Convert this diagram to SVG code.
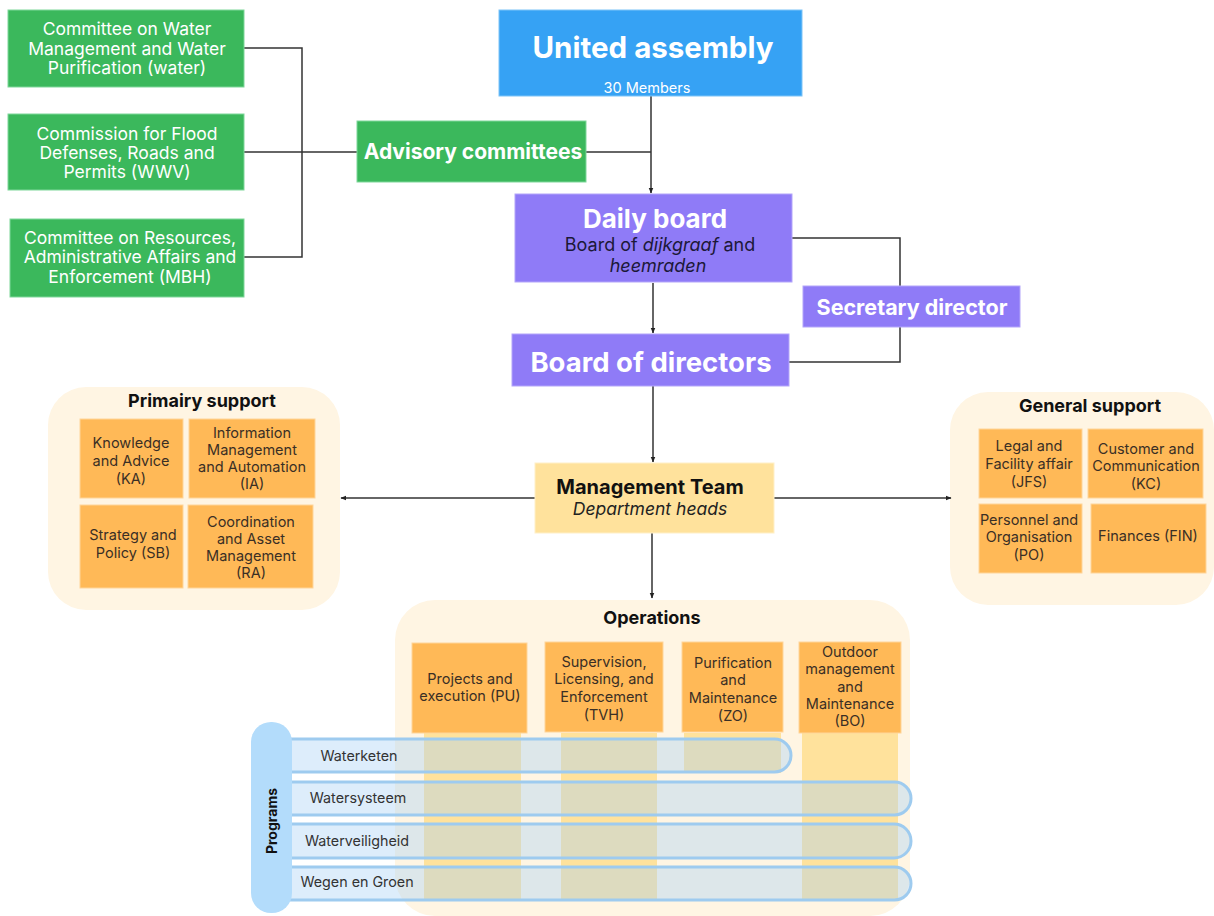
<svg xmlns="http://www.w3.org/2000/svg" width="1214" height="916" viewBox="0 0 1214 916">
  <defs>
    <marker id="arr" viewBox="0 0 10 10" refX="9" refY="5" markerWidth="6" markerHeight="6" orient="auto-start-reverse" markerUnits="userSpaceOnUse">
      <path d="M0,1 L10,5 L0,9 z" fill="#222"/>
    </marker>
    <style>
      text { font-family: Inter, "Liberation Sans", sans-serif; }
      .green { fill: #3bb85c; stroke: #7fd79a; stroke-width: 1; }
      .purple { fill: #8f7bf7; stroke: #b3a6fa; stroke-width: 1; }
      .panel { fill: #fff5e3; }
      .unit { fill: #ffb957; stroke: #ffd59a; stroke-width: 1; }
      .col { fill: #ffe29c; }
      .bar { fill: #a9d2f5; fill-opacity: 0.4; stroke: #9ecbef; stroke-width: 3; }
      .wt { fill: #ffffff; font-size: 17.5px; text-anchor: middle; }
      .wb { fill: #ffffff; font-weight: 700; text-anchor: middle; }
      .ut { fill: #3a2f25; font-size: 14.5px; text-anchor: middle; }
      .ht { fill: #111; font-size: 18px; font-weight: 700; text-anchor: middle; }
      .pt { fill: #333; font-size: 14.3px; text-anchor: middle; }
      .ln { fill: none; stroke: #333; stroke-width: 1.5; }
    </style>
  </defs>

  <!-- background panels -->
  <rect class="panel" x="48" y="387" width="292" height="223" rx="38"/>
  <rect class="panel" x="950" y="392" width="264" height="213" rx="38"/>
  <rect class="panel" x="395" y="600" width="515" height="316" rx="40"/>

  <!-- connectors -->
  <g id="connectors">
    <polyline class="ln" points="244,48 302,48 302,257 244,257"/>
    <line class="ln" x1="244" y1="152" x2="357" y2="152"/>
    <line class="ln" x1="586" y1="152" x2="651" y2="152"/>
    <line class="ln" x1="651" y1="96" x2="651" y2="193" marker-end="url(#arr)"/>
    <polyline class="ln" points="792,238 900,238 900,286"/>
    <polyline class="ln" points="900,327 900,362 789,362"/>
    <line class="ln" x1="653" y1="283" x2="653" y2="333" marker-end="url(#arr)"/>
    <line class="ln" x1="653" y1="386" x2="653" y2="462" marker-end="url(#arr)"/>
    <line class="ln" x1="535" y1="498" x2="341" y2="498" marker-end="url(#arr)"/>
    <line class="ln" x1="774" y1="498" x2="951" y2="498" marker-end="url(#arr)"/>
    <line class="ln" x1="652" y1="533" x2="652" y2="598" marker-end="url(#arr)"/>
  </g>

  <!-- advisory side -->
  <g id="committee-water">
    <rect class="green" x="8" y="10" width="236" height="77"/>
    <text class="wt"><tspan x="127" y="35">Committee on Water</tspan><tspan x="127" y="55">Management and Water</tspan><tspan x="127" y="74">Purification (water)</tspan></text>
  </g>
  <g id="commission-wwv">
    <rect class="green" x="8" y="114" width="236" height="76"/>
    <text class="wt"><tspan x="127" y="140">Commission for Flood</tspan><tspan x="127" y="159">Defenses, Roads and</tspan><tspan x="127" y="178">Permits (WWV)</tspan></text>
  </g>
  <g id="committee-mbh">
    <rect class="green" x="10" y="219" width="234" height="78"/>
    <text class="wt"><tspan x="130" y="244">Committee on Resources,</tspan><tspan x="130" y="263">Administrative Affairs and</tspan><tspan x="130" y="283">Enforcement (MBH)</tspan></text>
  </g>
  <g id="advisory">
    <rect class="green" x="357" y="121" width="229" height="61"/>
    <text class="wb" x="473" y="159" font-size="21">Advisory committees</text>
  </g>

  <!-- governance -->
  <g id="united-assembly">
    <rect x="499" y="10" width="303" height="86" fill="#36a2f4" stroke="#7cc4f8"/>
    <text class="wb" x="653" y="58" font-size="29.5">United assembly</text>
    <text x="647" y="93" fill="#ffffff" font-size="14.5" text-anchor="middle">30 Members</text>
  </g>
  <g id="daily-board">
    <rect class="purple" x="515" y="194" width="277" height="88"/>
    <text class="wb" x="655" y="228" font-size="26">Daily board</text>
    <text x="660" y="251" fill="#1c1838" font-size="18" text-anchor="middle">Board of <tspan font-style="italic">dijkgraaf</tspan> and</text>
    <text x="658" y="272" fill="#1c1838" font-size="18" text-anchor="middle" font-style="italic">heemraden</text>
  </g>
  <g id="secretary-director">
    <rect class="purple" x="803" y="286" width="217" height="41"/>
    <text class="wb" x="912" y="315" font-size="21.5">Secretary director</text>
  </g>
  <g id="board-of-directors">
    <rect class="purple" x="512" y="334" width="277" height="52"/>
    <text class="wb" x="651" y="372" font-size="27.5">Board of directors</text>
  </g>
  <g id="management-team">
    <rect x="535" y="463" width="239" height="70" fill="#ffe29c" stroke="#fff0c8"/>
    <text x="650" y="494" fill="#111" font-size="20" font-weight="700" text-anchor="middle">Management Team</text>
    <text x="650" y="515" fill="#222" font-size="17.5" font-style="italic" text-anchor="middle">Department heads</text>
  </g>

  <!-- primary support -->
  <g id="primary-support">
    <text class="ht" x="202" y="407">Primairy support</text>
    <rect class="unit" x="80" y="419" width="103" height="79"/>
    <text class="ut"><tspan x="131" y="448">Knowledge</tspan><tspan x="131" y="466">and Advice</tspan><tspan x="131" y="484">(KA)</tspan></text>
    <rect class="unit" x="189" y="419" width="126" height="79"/>
    <text class="ut"><tspan x="252" y="438">Information</tspan><tspan x="252" y="455">Management</tspan><tspan x="252" y="472">and Automation</tspan><tspan x="252" y="489">(IA)</tspan></text>
    <rect class="unit" x="80" y="505" width="103" height="83"/>
    <text class="ut"><tspan x="133" y="540">Strategy and</tspan><tspan x="133" y="558">Policy (SB)</tspan></text>
    <rect class="unit" x="188" y="505" width="125" height="83"/>
    <text class="ut"><tspan x="251" y="527">Coordination</tspan><tspan x="251" y="544">and Asset</tspan><tspan x="251" y="561">Management</tspan><tspan x="251" y="578">(RA)</tspan></text>
  </g>

  <!-- general support -->
  <g id="general-support">
    <text class="ht" x="1090" y="412">General support</text>
    <rect class="unit" x="979" y="429" width="103" height="69"/>
    <text class="ut"><tspan x="1029" y="451">Legal and</tspan><tspan x="1029" y="469">Facility affair</tspan><tspan x="1029" y="487">(JFS)</tspan></text>
    <rect class="unit" x="1088" y="429" width="115" height="69"/>
    <text class="ut"><tspan x="1146" y="454">Customer and</tspan><tspan x="1146" y="471">Communication</tspan><tspan x="1146" y="489">(KC)</tspan></text>
    <rect class="unit" x="979" y="504" width="103" height="69"/>
    <text class="ut"><tspan x="1029" y="525">Personnel and</tspan><tspan x="1029" y="542">Organisation</tspan><tspan x="1029" y="560">(PO)</tspan></text>
    <rect class="unit" x="1091" y="504" width="115" height="69"/>
    <text class="ut"><tspan x="1148" y="541">Finances (FIN)</tspan></text>
  </g>

  <!-- operations -->
  <g id="operations">
    <text class="ht" x="652" y="624">Operations</text>
    <rect class="col" x="424" y="733" width="97" height="167"/>
    <rect class="col" x="561" y="733" width="96" height="167"/>
    <rect class="col" x="684" y="733" width="97" height="40"/>
    <rect class="col" x="802" y="733" width="96" height="167"/>
    <rect class="unit" x="412" y="643" width="115" height="90"/>
    <text class="ut"><tspan x="470" y="684">Projects and</tspan><tspan x="470" y="701">execution (PU)</tspan></text>
    <rect class="unit" x="545" y="642" width="118" height="90"/>
    <text class="ut"><tspan x="604" y="667">Supervision,</tspan><tspan x="604" y="684">Licensing, and</tspan><tspan x="604" y="702">Enforcement</tspan><tspan x="604" y="720">(TVH)</tspan></text>
    <rect class="unit" x="682" y="642" width="101" height="90"/>
    <text class="ut"><tspan x="733" y="668">Purification</tspan><tspan x="733" y="685">and</tspan><tspan x="733" y="703">Maintenance</tspan><tspan x="733" y="721">(ZO)</tspan></text>
    <rect class="unit" x="799" y="642" width="102" height="91"/>
    <text class="ut"><tspan x="850" y="657">Outdoor</tspan><tspan x="850" y="674">management</tspan><tspan x="850" y="692">and</tspan><tspan x="850" y="709">Maintenance</tspan><tspan x="850" y="726">(BO)</tspan></text>
  </g>

  <!-- programs -->
  <g id="programs">
    <rect class="bar" x="262" y="739" width="529" height="33" rx="16.5"/>
    <rect class="bar" x="262" y="782" width="649" height="33" rx="16.5"/>
    <rect class="bar" x="262" y="824" width="649" height="34" rx="17"/>
    <rect class="bar" x="262" y="867" width="649" height="33" rx="16.5"/>
    <rect x="251" y="722" width="41" height="191" rx="20" fill="#b3dcfb"/>
    <text x="0" y="0" transform="translate(277,821) rotate(-90)" fill="#111" font-size="14" font-weight="700" text-anchor="middle">Programs</text>
    <text class="pt" x="359" y="761">Waterketen</text>
    <text class="pt" x="358" y="803">Watersysteem</text>
    <text class="pt" x="357" y="846">Waterveiligheid</text>
    <text class="pt" x="357" y="887">Wegen en Groen</text>
  </g>
</svg>
